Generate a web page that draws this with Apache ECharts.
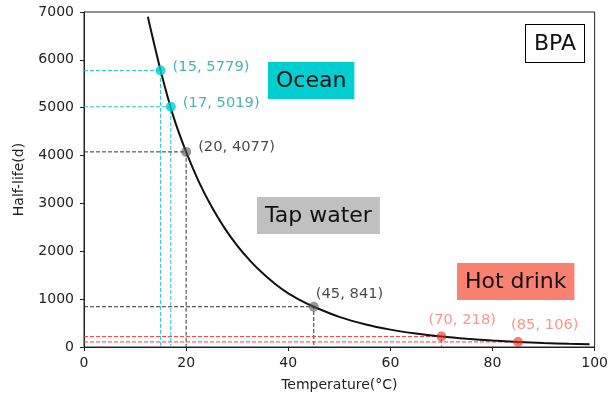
<!DOCTYPE html>
<html><head><meta charset="utf-8">
<script src="https://cdn.jsdelivr.net/npm/echarts@6/dist/echarts.min.js"></script>
<style>html,body{margin:0;padding:0;background:#fff}#c{width:611px;height:400px}</style>
</head><body><div id="c"></div>
<script>
// ---- data ----
const curveT = [12.5, 15, 17.5, 20, 22.5, 25, 27.5, 30, 32.5, 35, 37.5, 40, 42.5, 45, 50, 55, 60, 65, 70, 75, 80, 85, 90, 95, 99];
const curveV = [6900, 5779, 4820, 4077, 3452, 2930, 2490, 2118, 1805, 1540, 1313, 1122, 970, 841, 629, 475, 363, 280, 218, 171, 134, 106, 84, 67, 56];
const oceanPts = [[15, 5779], [17, 5019]];
const tapPts = [[20, 4077], [45, 841]];
const hotPts = [[70, 218], [85, 106]];
const boxTexts = ['Ocean', 'Tap water', 'Hot drink', 'BPA'];
const xAxisName = 'Temperature(°C)';
const yAxisName = 'Half-life(d)';

// ---- styles ----
const FONT = 'DejaVu Sans';
const groups = [
  {pts: oceanPts, marker: '#00CED1', line: '#22c8cc', label: '#1f9e9b', offs: [[17, 2], [17, 1]]},
  {pts: tapPts, marker: 'rgba(85,85,85,0.75)', line: '#333', label: '#1a1a1a', offs: [[17, 0], [7, -8]]},
  {pts: hotPts, marker: 'rgba(235,40,20,0.75)', line: '#ff3a3a', label: '#f87c6c', offs: [[-8, -11], [-2, -12]]}
];

const series = [];
groups.forEach(g => {
  g.pts.forEach(p => {
    series.push({
      type: 'line', silent: true, symbol: 'none', z: 1,
      lineStyle: {color: g.line, width: 1, type: [4, 2]},
      data: [[0, p[1]], [p[0], p[1]], [p[0], 0]]
    });
  });
});
series.push({
  type: 'line', silent: true, symbol: 'none', z: 3,
  smooth: 0.3,
  lineStyle: {color: '#111', width: 2},
  data: curveT.map((t, i) => [t, curveV[i]])
});
groups.forEach(g => {
  series.push({
    type: 'scatter', silent: true, z: 4, symbolSize: 10,
    itemStyle: {color: g.marker},
    data: g.pts.map((p, i) => ({
      value: p,
      label: {
        show: true, position: g.offs[i], align: 'left', verticalAlign: 'middle',
        formatter: '(' + p[0] + ', ' + p[1] + ')',
        color: g.label, fontFamily: FONT, fontSize: 14.7
      }
    }))
  });
});

const boxStyles = [
  {left: 268, top: 62, bg: '#00CED1'},
  {left: 257, top: 197, bg: '#C0C0C0'},
  {left: 457, top: 263, bg: '#FA8072'},
  {left: 525, top: 24, bg: '#fff', border: '#000'}
];
const graphic = boxTexts.map((t, i) => {
  const b = boxStyles[i];
  return {
    type: 'text', left: b.left, top: b.top, z: 10,
    style: {
      text: t, font: '22px "' + FONT + '"', fill: '#111',
      backgroundColor: b.bg, padding: [7, 8, 6, 8], lineHeight: 24,
      borderColor: b.border || null, borderWidth: b.border ? 1 : 0
    }
  };
});

const chart = echarts.init(document.getElementById('c'));
chart.setOption({
  animation: false,
  grid: {left: 84, right: 13, top: 12, bottom: 53, show: true, borderColor: '#222', borderWidth: 1, backgroundColor: 'transparent'},
  xAxis: {
    type: 'value', min: 0, max: 100, interval: 20,
    name: xAxisName, nameLocation: 'middle', nameGap: 31,
    nameTextStyle: {fontFamily: FONT, fontSize: 14, color: '#222'},
    axisLine: {show: true, onZero: false, lineStyle: {color: '#222'}},
    axisTick: {show: true, length: 4, lineStyle: {color: '#222'}},
    axisLabel: {fontFamily: FONT, fontSize: 14, color: '#222', margin: 9, formatter: v => String(v)},
    splitLine: {show: false}
  },
  yAxis: {
    type: 'value', min: 0, max: 7000, interval: 1000,
    name: yAxisName, nameLocation: 'middle', nameGap: 58,
    nameTextStyle: {fontFamily: FONT, fontSize: 14, color: '#222'},
    axisLine: {show: true, onZero: false, lineStyle: {color: '#222'}},
    axisTick: {show: true, length: 4, lineStyle: {color: '#222'}},
    axisLabel: {fontFamily: FONT, fontSize: 14, color: '#222', margin: 10, formatter: v => String(v)},
    splitLine: {show: false}
  },
  graphic: graphic,
  series: series
});
</script>
</body></html>
